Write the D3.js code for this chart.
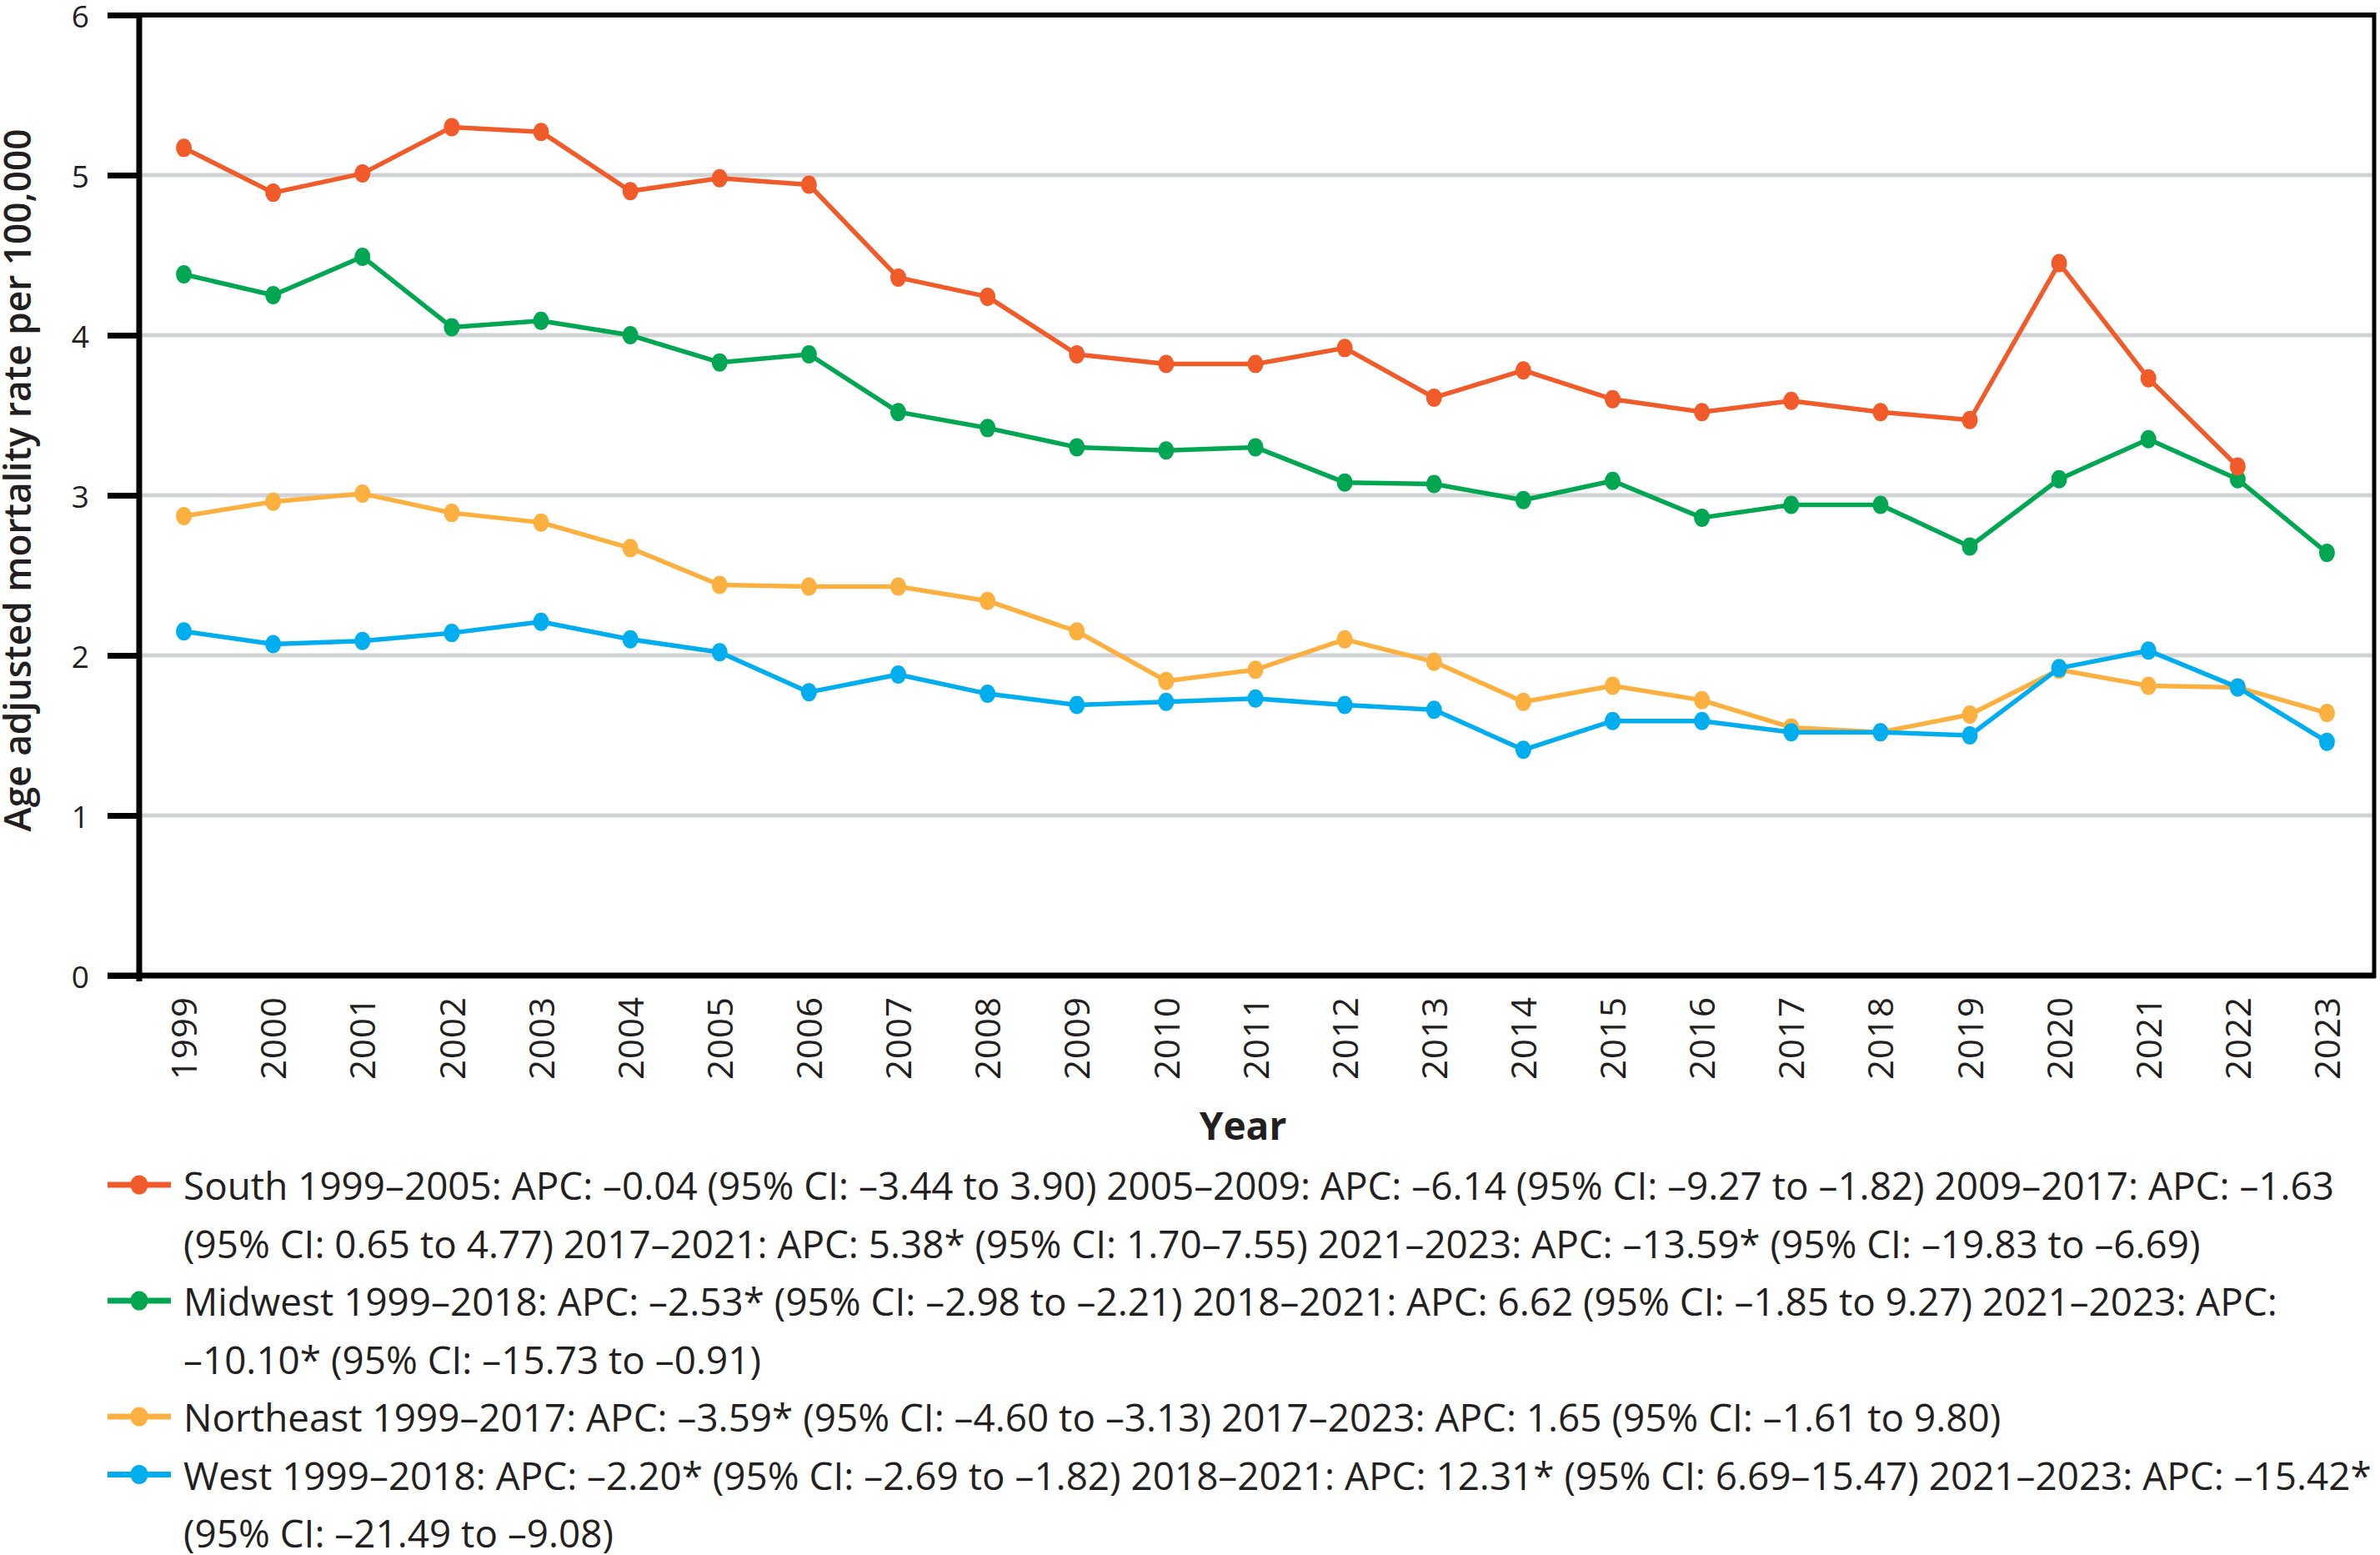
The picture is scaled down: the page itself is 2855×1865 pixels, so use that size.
<!DOCTYPE html>
<html>
<head>
<meta charset="utf-8">
<script src="https://cdn.jsdelivr.net/npm/d3@7"></script>
<style>
  body { margin: 0; background: #fff; }
  text { font-family: "Open Sans", "Noto Sans", sans-serif; fill: #231f20; }
</style>
</head>
<body>
<script>
var years = [1999, 2000, 2001, 2002, 2003, 2004, 2005, 2006, 2007, 2008, 2009, 2010,
             2011, 2012, 2013, 2014, 2015, 2016, 2017, 2018, 2019, 2020, 2021, 2022, 2023];
var south = [5.17, 4.89, 5.01, 5.30, 5.27, 4.90, 4.98, 4.94, 4.36, 4.24, 3.88, 3.82,
             3.82, 3.92, 3.61, 3.78, 3.60, 3.52, 3.59, 3.52, 3.47, 4.45, 3.73, 3.18, null];
var midwest = [4.38, 4.25, 4.49, 4.05, 4.09, 4.00, 3.83, 3.88, 3.52, 3.42, 3.30, 3.28,
               3.30, 3.08, 3.07, 2.97, 3.09, 2.86, 2.94, 2.94, 2.68, 3.10, 3.35, 3.10, 2.64];
var northeast = [2.87, 2.96, 3.01, 2.89, 2.83, 2.67, 2.44, 2.43, 2.43, 2.34, 2.15, 1.84,
                 1.91, 2.10, 1.96, 1.71, 1.81, 1.72, 1.55, 1.52, 1.63, 1.91, 1.81, 1.80, 1.64];
var west = [2.15, 2.07, 2.09, 2.14, 2.21, 2.10, 2.02, 1.77, 1.88, 1.76, 1.69, 1.71,
            1.73, 1.69, 1.66, 1.41, 1.59, 1.59, 1.52, 1.52, 1.50, 1.92, 2.03, 1.80, 1.46];
var yTicks = [0, 1, 2, 3, 4, 5, 6];

var southText = ["South 1999–2005: APC: –0.04 (95% CI: –3.44 to 3.90) 2005–2009: APC: –6.14 (95% CI: –9.27 to –1.82) 2009–2017: APC: –1.63",
                 "(95% CI: 0.65 to 4.77) 2017–2021: APC: 5.38* (95% CI: 1.70–7.55) 2021–2023: APC: –13.59* (95% CI: –19.83 to –6.69)"];
var midwestText = ["Midwest 1999–2018: APC: –2.53* (95% CI: –2.98 to –2.21) 2018–2021: APC: 6.62 (95% CI: –1.85 to 9.27) 2021–2023: APC:",
                   "–10.10* (95% CI: –15.73 to –0.91)"];
var northeastText = ["Northeast 1999–2017: APC: –3.59* (95% CI: –4.60 to –3.13) 2017–2023: APC: 1.65 (95% CI: –1.61 to 9.80)"];
var westText = ["West 1999–2018: APC: –2.20* (95% CI: –2.69 to –1.82) 2018–2021: APC: 12.31* (95% CI: 6.69–15.47) 2021–2023: APC: –15.42*",
                "(95% CI: –21.49 to –9.08)"];

var series = [
  {name: "South", values: south, color: "#f15a29", text: southText},
  {name: "Midwest", values: midwest, color: "#00a651", text: midwestText},
  {name: "Northeast", values: northeast, color: "#fbb040", text: northeastText},
  {name: "West", values: west, color: "#00aeef", text: westText}
];

var W = 2855, H = 1865;
var plotL = 167, plotR = 2848, plotT = 18, plotB = 1170;

var svg = d3.select("body").append("svg")
  .attr("width", W).attr("height", H);

var x = d3.scalePoint().domain(years).range([plotL, plotR - 3]).padding(0.5);
var y = d3.scaleLinear().domain([0, 6]).range([plotB, plotT]);

// gridlines
svg.append("g").selectAll("line").data(yTicks.filter(function (d) { return d > 0 && d < 6; }))
  .enter().append("line")
  .attr("x1", plotL).attr("x2", plotR)
  .attr("y1", function (d) { return y(d); })
  .attr("y2", function (d) { return y(d); })
  .attr("stroke", "#d1d3d4").attr("stroke-width", 5);

// frame top / right
svg.append("line").attr("x1", plotL).attr("x2", plotR).attr("y1", plotT).attr("y2", plotT)
  .attr("stroke", "#000").attr("stroke-width", 6);
svg.append("line").attr("x1", plotR).attr("x2", plotR).attr("y1", plotT - 3).attr("y2", plotB + 3)
  .attr("stroke", "#000").attr("stroke-width", 5);

// y axis
var yAxis = svg.append("g").attr("transform", "translate(" + plotL + ",0)")
  .call(d3.axisLeft(y).tickValues(yTicks).tickFormat(d3.format("d"))
    .tickSize(38).tickPadding(22).tickSizeOuter(0));
yAxis.select(".domain").attr("stroke", "#000").attr("stroke-width", 7)
  .attr("d", "M0," + (plotT - 3) + "V" + (plotB + 7));
yAxis.selectAll(".tick line").attr("stroke", "#000").attr("stroke-width", 7);
yAxis.selectAll(".tick text").attr("font-size", 37).attr("dy", "0.4em")
  .style("font-family", "'Open Sans', sans-serif").attr("fill", "#231f20");

// x axis
var xAxis = svg.append("g").attr("transform", "translate(0," + plotB + ")")
  .call(d3.axisBottom(x).tickSize(0).tickSizeOuter(0));
xAxis.select(".domain").attr("stroke", "#000").attr("stroke-width", 7)
  .attr("d", "M" + (plotL - 38) + ",0H" + (plotR + 2));
xAxis.selectAll(".tick text")
  .attr("transform", "rotate(-90)")
  .attr("x", -25).attr("y", 0).attr("dy", "0.36em")
  .style("text-anchor", "end")
  .style("font-family", "'Open Sans', sans-serif")
  .attr("font-size", 42).attr("letter-spacing", 1)
  .attr("fill", "#231f20");

// lines
var line = d3.line()
  .defined(function (d) { return d != null; })
  .x(function (d, i) { return x(years[i]); })
  .y(function (d) { return y(d); });

var drawOrder = [series[2], series[3], series[1], series[0]];
drawOrder.forEach(function (s) {
  svg.append("path").datum(s.values)
    .attr("d", line)
    .attr("fill", "none")
    .attr("stroke", s.color)
    .attr("stroke-width", 5.5)
    .attr("stroke-linejoin", "round");
  svg.append("g").selectAll("ellipse")
    .data(s.values.map(function (v, i) { return {v: v, yr: years[i]}; })
      .filter(function (d) { return d.v != null; }))
    .enter().append("ellipse")
    .attr("cx", function (d) { return x(d.yr); })
    .attr("cy", function (d) { return y(d.v); })
    .attr("rx", 9.5).attr("ry", 11)
    .attr("fill", s.color);
});

// axis titles
var yTitle = svg.append("text")
  .attr("transform", "translate(37,576) rotate(-90)")
  .attr("text-anchor", "middle")
  .attr("font-size", 45).attr("font-weight", 600)
  .text("Age adjusted mortality rate per 100,000");
yTitle.attr("textLength", 843).attr("lengthAdjust", "spacingAndGlyphs");

svg.append("text")
  .attr("x", 1491).attr("y", 1367)
  .attr("text-anchor", "middle")
  .attr("font-size", 46).attr("font-weight", 700)
  .text("Year");

// legend
var lineGap = 69.5, base0 = 1439;
var legend = svg.append("g");
var row = 0;
var allText = [];
series.forEach(function (s) {
  var cy = base0 + row * lineGap - 18;
  legend.append("line")
    .attr("x1", 129).attr("x2", 205)
    .attr("y1", cy).attr("y2", cy)
    .attr("stroke", s.color).attr("stroke-width", 7);
  legend.append("ellipse")
    .attr("cx", 167).attr("cy", cy)
    .attr("rx", 10.5).attr("ry", 11.5)
    .attr("fill", s.color);
  s.text.forEach(function (t) {
    var tx = legend.append("text")
      .attr("x", 220).attr("y", base0 + row * lineGap)
      .attr("font-size", 46)
      .text(t);
    allText.push(tx);
    row++;
  });
});

// squeeze text to the narrow face of the original
var k = 2580 / allText[0].node().getComputedTextLength();
allText.forEach(function (tx) {
  var w = tx.node().getComputedTextLength();
  tx.attr("textLength", w * k).attr("lengthAdjust", "spacingAndGlyphs");
});
</script>
</body>
</html>
